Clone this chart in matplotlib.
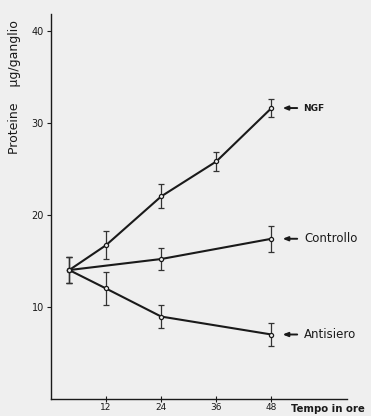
import matplotlib
matplotlib.use("Agg")
import matplotlib.pyplot as plt

# Data
ngf_t = [4, 12, 24, 36, 48]
ngf_y = [14.0, 16.7, 22.0, 25.8, 31.6]
ngf_e = [1.4, 1.5, 1.3, 1.0, 1.0]

ctrl_t = [4, 24, 48]
ctrl_y = [14.0, 15.2, 17.4]
ctrl_e = [1.4, 1.2, 1.4]

anti_t = [4, 12, 24, 48]
anti_y = [14.0, 12.0, 8.95, 7.0]
anti_e = [1.4, 1.8, 1.25, 1.25]

x_ticks = [12, 24, 36, 48]
y_ticks = [10, 20, 30, 40]
labels = ["NGF", "Controllo", "Antisiero"]

bg = "#efefef"
ink = "#1a1a1a"

fig = plt.figure(figsize=(3.71, 4.16), dpi=100, facecolor=bg)
ax = fig.add_axes([0.137, 0.041, 0.798, 0.925], facecolor=bg)

for t, y, e in [(ngf_t, ngf_y, ngf_e), (ctrl_t, ctrl_y, ctrl_e), (anti_t, anti_y, anti_e)]:
    ax.plot(t, y, color=ink, lw=1.5, zorder=2)
    ax.errorbar(t, y, yerr=e, fmt='none', ecolor="#333333", elinewidth=0.9,
                capsize=2, capthick=0.9, zorder=3)
    ax.plot(t, y, 'o', ms=3, mfc=bg, mec=ink, mew=0.9, zorder=4)

ax.set_xlim(0, 64.4)
ax.set_ylim(0, 41.8)
ax.set_xticks(x_ticks)
ax.set_yticks(y_ticks)
ax.spines['top'].set_visible(False)
ax.spines['right'].set_visible(False)
for s in ['left', 'bottom']:
    ax.spines[s].set_color(ink)
    ax.spines[s].set_linewidth(1.0)
ax.tick_params(axis='y', direction='out', length=3, width=0.8, labelsize=7, pad=2, colors=ink)
ax.tick_params(axis='x', direction='inout', length=4, width=0.8, labelsize=6.5, pad=1, colors=ink)

ends = [ngf_y[-1], ctrl_y[-1], anti_y[-1]]
for lab, ye in zip(labels, ends):
    ax.annotate('', xy=(48, ye), xycoords='data', xytext=(18.5, 0), textcoords='offset points',
                arrowprops=dict(arrowstyle='-|>,head_length=0.3,head_width=0.12', color=ink,
                                lw=1.4, shrinkA=0, shrinkB=8))
    ax.annotate(lab, xy=(48, ye), xycoords='data',
                xytext=(22.5 if lab == "NGF" else 23.5, 0), textcoords='offset points',
                ha='left', va='center', fontsize=6.5 if lab == "NGF" else 8.5, color=ink,
                fontweight='bold' if lab == "NGF" else 'normal')

fig.text(0.038, 0.79, "Proteine    μg/ganglio", rotation=90, ha='center', va='center',
         fontsize=9, color=ink)
fig.text(0.785, 0.018, "Tempo in ore", ha='left', va='center', fontsize=7.3,
         fontweight='bold', color=ink)

fig.savefig("out.png", dpi=100, facecolor=bg)
